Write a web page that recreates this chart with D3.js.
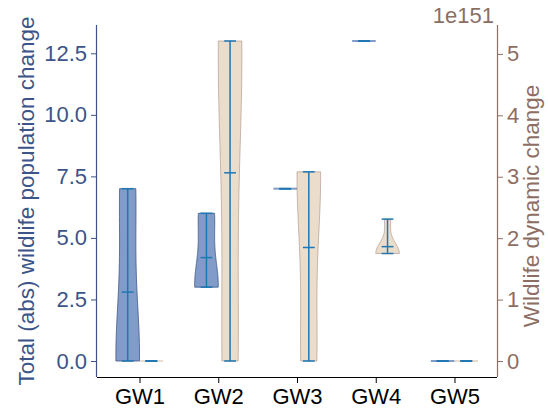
<!DOCTYPE html>
<html><head><meta charset="utf-8">
<script src="https://cdn.jsdelivr.net/npm/d3@7"></script>
<style>body{margin:0;background:#fff}svg{display:block;font-family:"Liberation Sans",Arial,Helvetica,sans-serif}</style>
</head><body>
<svg id="chart" width="548" height="410"></svg>
<script>
// ---- data ----
const categories = ["GW1", "GW2", "GW3", "GW4", "GW5"];
// Total (abs) wildlife population change, samples per group
const totalChange = [
  [0, 0, 0, 7, 7],
  [3, 3, 3, 6, 6],
  [7, 7, 7, 7, 7],
  [13, 13, 13, 13, 13],
  [0, 0, 0, 0, 0]
];
// Wildlife dynamic change, in units of 1e151
const dynamicChange = [
  [0, 0, 0, 0, 0],
  [0, 0, 4.9, 5.21, 5.21],
  [0, 0, 3.08, 3.08, 3.08],
  [1.75, 1.75, 1.75, 1.75, 2.31],
  [0, 0, 0, 0, 0]
];
const leftTicks = [0, 2.5, 5, 7.5, 10, 12.5];
const rightTicks = [0, 1, 2, 3, 4, 5];
const rightOffsetLabel = "1e151";
const leftLabel = "Total (abs) wildlife population change";
const rightLabel = "Wildlife dynamic change";

// ---- layout ----
const svg = d3.select("#chart");
const L = 97, R = 497, T = 25, B = 377;
const cLeftText = "#3C5488", cLeftFill = "#4C72B0", cRightFill = "#D2B48C", cRightText = "#8D6E63", cLine = "#1f77b4";
const fs = 22;

function padDomain(arrs) {
  const all = arrs.flat();
  const mn = d3.min(all), mx = d3.max(all), m = (mx - mn) * 0.05;
  return [mn - m, mx + m];
}
const x = d3.scaleLinear().domain([-0.54, categories.length - 1 + 0.54]).range([L, R]);
const yL = d3.scaleLinear().domain(padDomain(totalChange)).range([B, T]);
const yR = d3.scaleLinear().domain(padDomain(dynamicChange)).range([B, T]);

const offset = 0.15, vWidth = 0.3;
const pxPerUnit = x(1) - x(0);
const halfW = vWidth / 2 * pxPerUnit;
const capHalf = vWidth / 4 * pxPerUnit;

function kde(data) {
  const n = data.length;
  const mean = d3.mean(data);
  const v = d3.sum(data, d => (d - mean) ** 2) / (n - 1);
  const f = Math.pow(n, -1 / 5);
  const cov = v * f * f;
  const mn = d3.min(data), mx = d3.max(data);
  const pts = d3.range(100).map(i => mn + (mx - mn) * i / 99);
  return pts.map(p => [p, d3.sum(data, d => Math.exp(-((p - d) ** 2) / (2 * cov)))]);
}

function drawViolins(groups, yScale, dx, fill, fillOp, stroke, strokeOp) {
  const g = svg.append("g");
  groups.forEach((data, i) => {
    const cx = x(i + dx);
    const mn = d3.min(data), mx = d3.max(data), mean = d3.mean(data);
    if (mx - mn > 0) {
      const dens = kde(data);
      const dmax = d3.max(dens, d => d[1]);
      const right = dens.map(d => [cx + d[1] / dmax * halfW, yScale(d[0])]);
      const left = dens.map(d => [cx - d[1] / dmax * halfW, yScale(d[0])]).reverse();
      g.append("path")
        .attr("d", d3.line()(right.concat(left)) + "Z")
        .attr("fill", fill).attr("fill-opacity", fillOp)
        .attr("stroke", stroke).attr("stroke-opacity", strokeOp).attr("stroke-width", 1);
    } else {
      g.append("line")
        .attr("x1", cx - halfW).attr("x2", cx + halfW)
        .attr("y1", yScale(mn)).attr("y2", yScale(mn))
        .attr("stroke", fill).attr("stroke-opacity", fillOp).attr("stroke-width", 2);
    }
    g.append("line").attr("x1", cx).attr("x2", cx)
      .attr("y1", yScale(mn)).attr("y2", yScale(mx))
      .attr("stroke", cLine).attr("stroke-width", 1.5);
    [mn, mx, mean].forEach(v => {
      g.append("line").attr("x1", cx - capHalf).attr("x2", cx + capHalf)
        .attr("y1", yScale(v)).attr("y2", yScale(v))
        .attr("stroke", cLine).attr("stroke-width", 1.5);
    });
  });
}

drawViolins(totalChange, yL, -offset, cLeftFill, 0.7, cLeftText, 0.8);
drawViolins(dynamicChange, yR, offset, cRightFill, 0.45, cRightText, 0.45);

// ---- axes ----
function styleTicks(g, color) {
  g.attr("font-family", null).attr("font-size", null);
  g.selectAll(".tick text").attr("fill", color).style("font-size", fs + "px");
}
const axL = d3.axisLeft(yL).tickValues(leftTicks).tickFormat(d3.format(".1f")).tickSize(6).tickPadding(4);
const gL = svg.append("g").attr("transform", `translate(${L},0)`).call(axL);
gL.select(".domain").attr("d", `M-0.5,${T}V${B}`).attr("stroke", cLeftText).attr("stroke-width", 1.2);
gL.selectAll(".tick line").attr("stroke", cLeftText);
styleTicks(gL, cLeftText);

const axR = d3.axisRight(yR).tickValues(rightTicks).tickFormat(d3.format("d")).tickSize(6).tickPadding(4);
const gR = svg.append("g").attr("transform", `translate(${R},0)`).call(axR);
gR.select(".domain").attr("d", `M0.5,${T}V${B}`).attr("stroke", cRightText).attr("stroke-width", 1.2);
gR.selectAll(".tick line").attr("stroke", cRightText);
styleTicks(gR, cRightText);

const axB = d3.axisBottom(x).tickValues(d3.range(categories.length)).tickFormat(i => categories[i]).tickSize(6).tickPadding(5);
const gB = svg.append("g").attr("transform", `translate(0,${B})`).call(axB);
gB.select(".domain").attr("d", `M${L},0.5H${R}`).attr("stroke", "#000").attr("stroke-width", 1.2);
styleTicks(gB, "#000");

// labels
svg.append("text").attr("transform", `translate(34,${(T + B) / 2}) rotate(-90)`)
  .attr("text-anchor", "middle").attr("fill", cLeftText).style("font-size", "22.5px").text(leftLabel);
svg.append("text").attr("transform", `translate(539,${(T + B) / 2 + 5}) rotate(-90)`)
  .attr("text-anchor", "middle").attr("fill", cRightText).style("font-size", "22.5px").text(rightLabel);
svg.append("text").attr("x", R - 3).attr("y", 23).attr("text-anchor", "end")
  .attr("fill", cRightText).style("font-size", fs + "px").text(rightOffsetLabel);
</script>
</body></html>
